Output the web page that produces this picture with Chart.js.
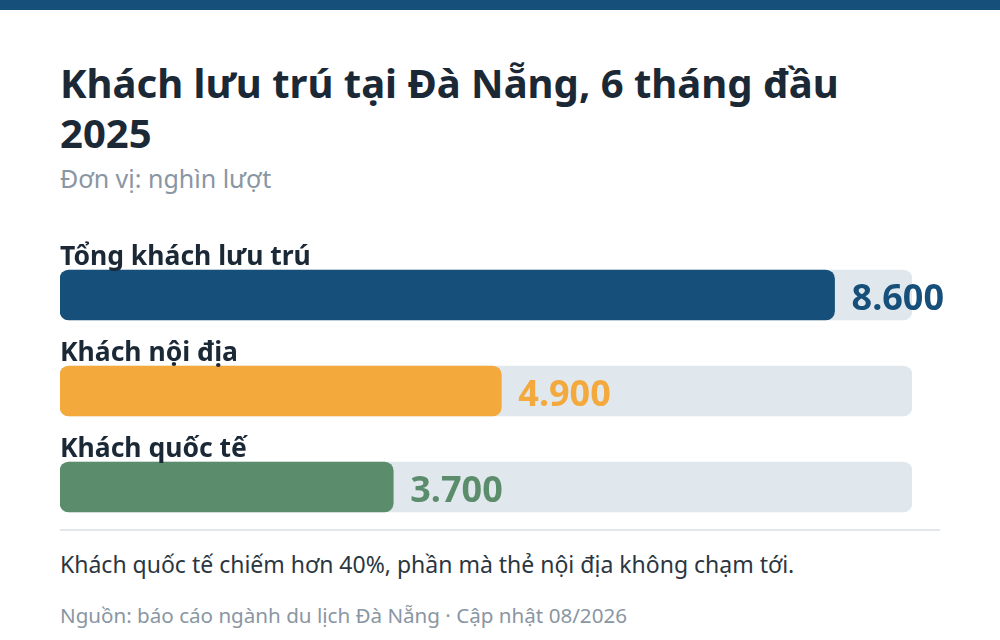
<!DOCTYPE html>
<html lang="vi">
<head>
<meta charset="utf-8">
<script src="https://cdn.jsdelivr.net/npm/chart.js@4.4.1/dist/chart.umd.min.js"></script>
<style>
    body { margin: 0; width: 1000px; height: 640px; background: #fff; font-family: "Noto Sans", sans-serif; position: relative; overflow: hidden; }
    .topbar { position: absolute; left: 0; top: 0; width: 1000px; height: 10px; background: #174f7b; }
    .title { position: absolute; left: 60px; top: 58px; font-size: 40px; font-weight: 700; line-height: 50px; color: #1b2836; margin: 0; }
    .subtitle { position: absolute; left: 60px; top: 161px; font-size: 25px; color: #8996a3; }
    .chart-wrap { position: absolute; left: 0; top: 230px; width: 1000px; height: 310px; }
    .divider { position: absolute; left: 60px; top: 529px; width: 880px; height: 2px; background: #e3e7eb; }
    .note { position: absolute; left: 60px; top: 548px; font-size: 23px; color: #2b3641; }
    .source { position: absolute; left: 60px; top: 601px; font-size: 20.6px; color: #8996a3; }
</style>
</head>
<body>
<div class="topbar"></div>
<h1 class="title">Khách lưu trú tại Đà Nẵng, 6 tháng đầu<br>2025</h1>
<div class="subtitle">Đơn vị: nghìn lượt</div>
<div class="chart-wrap"><canvas id="barsChart"></canvas></div>
<div class="divider"></div>
<div class="note">Khách quốc tế chiếm hơn 40%, phần mà thẻ nội địa không chạm tới.</div>
<div class="source">Nguồn: báo cáo ngành du lịch Đà Nẵng · Cập nhật 08/2026</div>

<script>
// Dữ liệu (nghìn lượt)
const categories = ['Tổng khách lưu trú', 'Khách nội địa', 'Khách quốc tế'];
const values = [8600, 4900, 3700];
const scaleMax = 9460;
const trackValues = [9460, 9460, 9460];

const barColors = ['#174f7b', '#f4a93c', '#5b8c6b'];

// Định dạng số kiểu Việt Nam: 8600 -> 8.600
function formatNumber(n) {
    return String(n).replace(/\B(?=(\d{3})+(?!\d))/g, '.');
}

// Nhãn phía trên thanh và giá trị bên phải
const labelsPlugin = {
    id: 'barLabels',
    afterDatasetsDraw(chart) {
        const ctx = chart.ctx;
        const meta = chart.getDatasetMeta(0);
        ctx.save();
        ctx.textAlign = 'left';
        ctx.textBaseline = 'alphabetic';
        meta.data.forEach((bar, i) => {
            const top = bar.y - bar.height / 2;
            ctx.font = '700 26.5px "Noto Sans"';
            ctx.fillStyle = '#1b2836';
            ctx.fillText(categories[i], chart.chartArea.left, top - 5);

            ctx.font = '700 36px "Noto Sans"';
            ctx.fillStyle = barColors[i];
            ctx.fillText(formatNumber(values[i]), bar.x + 17, bar.y + 15);
        });
        ctx.restore();
    }
};

document.addEventListener('DOMContentLoaded', function() {
    const ctx = document.getElementById('barsChart');
    new Chart(ctx, {
        type: 'bar',
        data: {
            labels: categories,
            datasets: [{
                data: values,
                backgroundColor: barColors,
                borderRadius: 9,
                borderSkipped: false,
                barThickness: 50,
                grouped: false,
                order: 0
            }, {
                data: trackValues,
                backgroundColor: '#e0e7ed',
                borderRadius: 9,
                borderSkipped: false,
                barThickness: 50,
                grouped: false,
                order: 1
            }]
        },
        options: {
            indexAxis: 'y',
            responsive: true,
            maintainAspectRatio: false,
            animation: false,
            layout: { padding: { left: 60, right: 88, top: 17, bottom: 5 } },
            scales: {
                x: { display: false, min: 0, max: scaleMax },
                y: { display: false }
            },
            plugins: {
                legend: { display: false },
                tooltip: { enabled: false }
            }
        },
        plugins: [labelsPlugin]
    });
});
</script>
</body>
</html>
